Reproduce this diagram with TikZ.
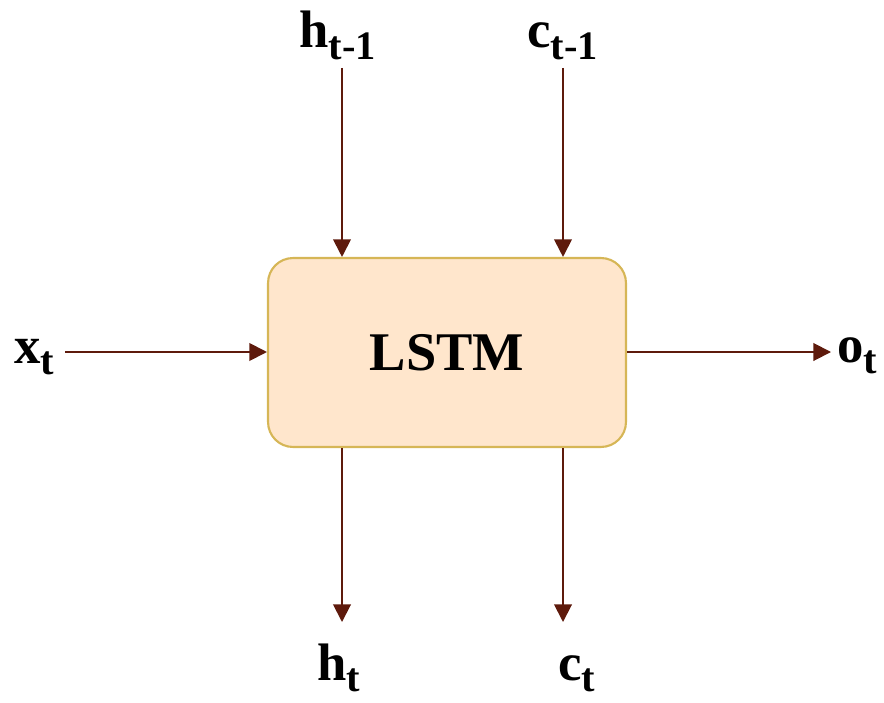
\documentclass[tikz,border=0pt]{standalone}
\usepackage{fontspec}
\setmainfont{Liberation Serif}
\usetikzlibrary{arrows.meta}

\definecolor{boxfill}{HTML}{FFE6CC}
\definecolor{boxline}{HTML}{D6B656}
\definecolor{wire}{HTML}{5E1A0C}
\newcommand{\lowsub}[1]{\raisebox{-6.5pt}{\fontsize{23}{23}\selectfont #1}}

\begin{document}
\begin{tikzpicture}[x=0.02cm, y=-0.02cm, font=\bfseries\fontsize{30}{32}\selectfont,
    lstm/.style={draw=boxline, fill=boxfill, line width=1.2pt, rounded corners=0.5cm,
      minimum width=7.16cm, minimum height=3.78cm, font=\bfseries\fontsize{31}{33}\selectfont},
    lbl/.style={anchor=base west, inner sep=0pt},
    wire/.style={draw=wire, line width=1.1pt, -{Triangle[length=10pt, width=10pt]}}]
  \useasboundingbox (0,0) rectangle (884,702);
  \node[lstm] (cell) at (447,352.5) {LSTM};
  % labels
  \node[lbl] (hprev) at (299,48) {h\lowsub{t-1}};
  \node[lbl] (cprev) at (527,48) {c\lowsub{t-1}};
  \node[lbl] (xt) at (14,363) {x\lowsub{t}};
  \node[lbl] (ot) at (837,362) {o\lowsub{t}};
  \node[lbl] (ht) at (317,680) {h\lowsub{t}};
  \node[lbl] (ct) at (558,680) {c\lowsub{t}};
  % wire ends
  \foreach \n/\x in {hin/342, cin/563}
    \coordinate (\n) at (\x,68);
  \foreach \n/\x in {hout/342, cout/563}
    \coordinate (\n) at (\x,622);
  \coordinate (xin) at (65,352);
  \coordinate (oout) at (831,352);
  % connectors
  \foreach \n in {hin, cin}
    \path[wire] (\n) -- (\n |- cell.north);
  \foreach \n in {hout, cout}
    \path[wire] (\n |- cell.south) -- (\n);
  \path[wire] (xin) -- (xin -| cell.west);
  \path[wire] (oout -| cell.east) -- (oout);
\end{tikzpicture}
\end{document}
